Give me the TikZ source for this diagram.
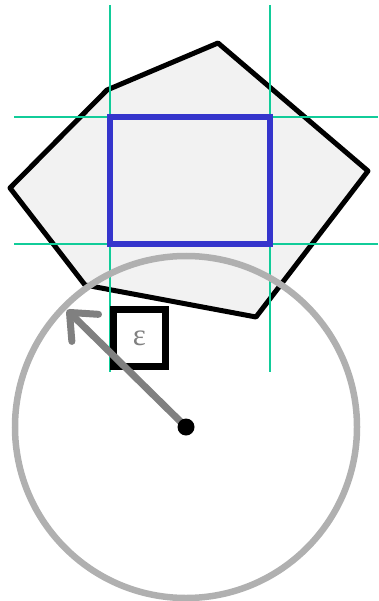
\documentclass[tikz,border=0pt]{standalone}
\usepackage{fontspec}
\newfontfamily\greekfont{Liberation Serif}
\usetikzlibrary{arrows.meta,calc}
\usepackage{xcolor}
\definecolor{guide}  {HTML}{11CC99}
\definecolor{boxblue}{HTML}{3535CC}
\definecolor{polyfill}{HTML}{F2F2F2}
\definecolor{ringgray}{HTML}{B0B0B0}
\definecolor{arrowgray}{HTML}{808080}

\tikzset{
  guideline/.style={draw=guide, line width=2.2pt},
  polyline/.style={draw=black, line width=5pt, line join=round, fill=polyfill},
  epsbox/.style={draw=black, line width=7.5pt, minimum width=52pt, minimum height=57pt,
    inner sep=0pt, text=arrowgray, font=\greekfont\fontsize{31}{31}\selectfont}
}

\begin{document}
\begin{tikzpicture}[x=1pt, y=-1pt]
        \useasboundingbox (0,0) rectangle (378,601);
        % polygon
        \draw[polyline] (218,43) -- (368,171) -- (256,317) -- (85,285)
          -- (10,188) -- (107,90) -- cycle;
        % guide lines
        \draw[guideline] (110,5) -- (110,372);
        \draw[guideline] (270,5) -- (270,372);
        \draw[guideline] (14,117) -- (378,117);
        \draw[guideline] (14,244) -- (378,244);
        % inner box
        \draw[draw=boxblue, line width=6pt] (110,117) rectangle (270,244);
        % circle
        \coordinate (centre) at (186,427);
        \draw[draw=ringgray, line width=6.5pt] (centre) circle[radius=171];
        % epsilon box
        \node[epsbox] (eps) at (139.5,338) {ε};
        % radius arrow
        \coordinate (tip) at (67,310);
        \draw[draw=arrowgray, line width=7pt, line cap=round,
          -{Straight Barb[length=22pt, width=38pt, round]}] (centre) -- (tip);
        \node[circle, fill=black, minimum size=17pt, inner sep=0pt] (dot) at (centre) {};
      \end{tikzpicture}
\end{document}
